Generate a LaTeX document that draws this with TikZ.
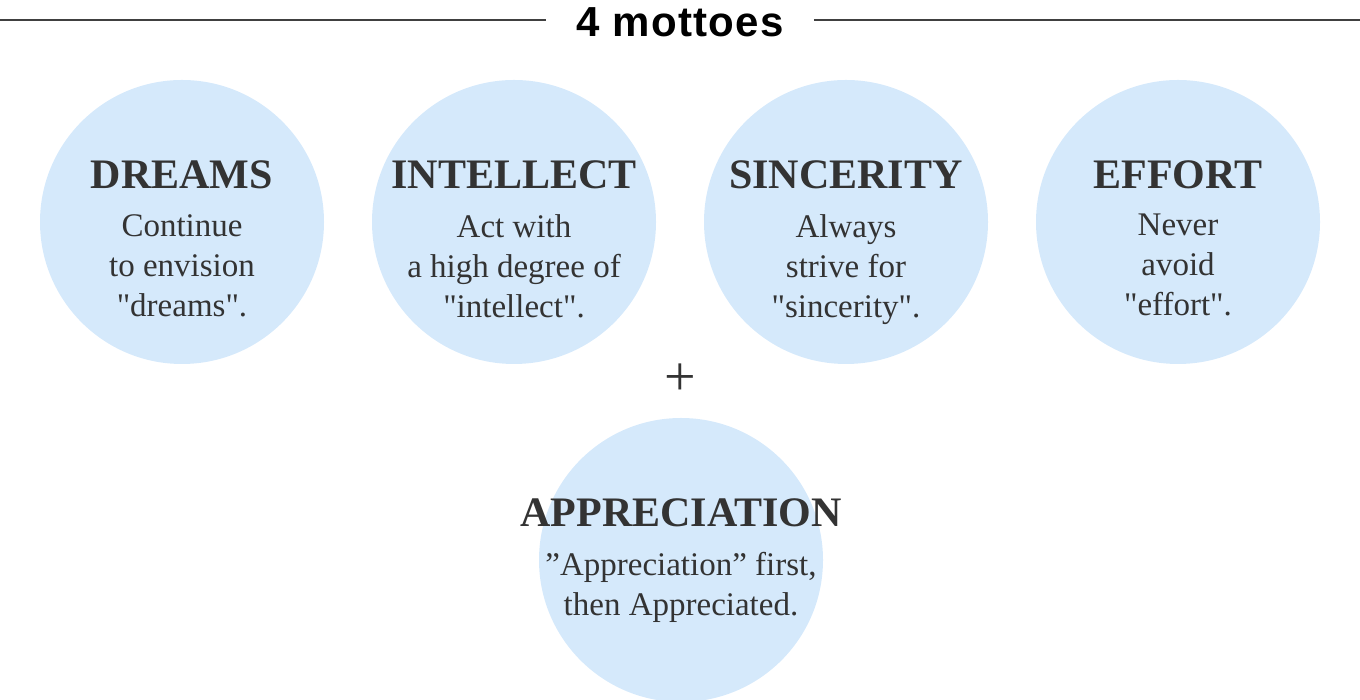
\documentclass[tikz,border=0pt]{standalone}
\usepackage{fontspec}
\setmainfont{Liberation Serif}[Ligatures=TeXOff]
\newfontfamily\titlefont{Liberation Sans}[LetterSpace=3]
\usetikzlibrary{positioning}
\definecolor{bubblefill}{HTML}{D5E9FB}
\definecolor{ink}{HTML}{333333}
\tikzset{
  bubble/.style={circle, fill=bubblefill, minimum size=284pt, inner sep=0pt},
  head/.style={font=\fontsize{42}{48}\selectfont\bfseries, text=ink, inner sep=0pt, anchor=base},
  body/.style={font=\fontsize{33}{40}\selectfont, text=ink, align=center, inner sep=0pt},
  rule/.style={draw=black!75, line width=2pt},
}
\begin{document}
\begin{tikzpicture}[x=1pt, y=1pt]
  \useasboundingbox (0,0) rectangle (1360,700);
  % title with rules on both sides
  \node[font=\titlefont\bfseries\fontsize{42}{42}\selectfont, inner ysep=0pt, inner xsep=30pt, anchor=base] (title) at (680,663) {4 mottoes};
  \coordinate (lend) at (0,680);
  \coordinate (rend) at (1360,680);
  \draw[rule] (lend) -- (lend -| title.west);
  \draw[rule] (title.east |- rend) -- (rend);
  % the mottoes
  \foreach \n/\x/\y/\h/\t in {
      dreams/182/478/DREAMS/{Continue\\ to envision\\ "dreams".},
      intellect/514/478/INTELLECT/{Act with\\ a high degree of\\ "intellect".},
      sincerity/846/478/SINCERITY/{Always\\ strive for\\ "sincerity".},
      effort/1178/478/EFFORT/{Never\\ avoid\\ "effort".},
      appreciation/681/140/APPRECIATION/{”Appreciation” first,\\ then Appreciated.}} {
    \node[bubble] (\n) at (\x,\y) {};
    \node[head] (\n-head) at ([yshift=33pt]\n.center) {\h};
    \node[body, below=25pt of \n-head.base] (\n-text) {\t};
  }
  \node[font=\fontsize{56}{56}\selectfont, text=ink, inner sep=0pt] (plus) at (680,320) {+};
\end{tikzpicture}
\end{document}
